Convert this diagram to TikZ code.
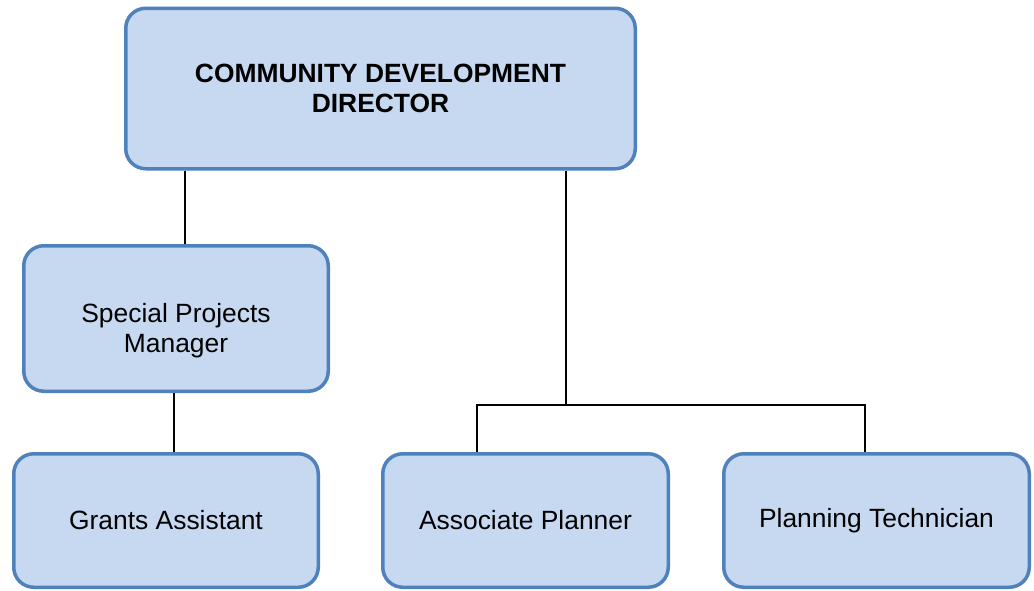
\documentclass[tikz,border=0pt]{standalone}
\usepackage{fontspec}
\setmainfont{Liberation Sans}
\usetikzlibrary{positioning}
\definecolor{boxfill}{HTML}{C6D9F1}
\definecolor{boxline}{HTML}{4F81BD}

\begin{document}
\begin{tikzpicture}[
    % GLOBAL CFG
    x=1pt, y=1pt,
    font=\fontsize{26.4}{30}\selectfont,
    % Styles
    post/.style={% For every position box
        rectangle,
        rounded corners=20pt,
        draw=boxline,
        line width=3.5pt,
        fill=boxfill,
        minimum height=133.5pt,
        inner sep=2pt,
    },
    head/.style={% For the director box
        post,
        font=\fontsize{26.4}{30}\selectfont\bfseries,
    },
    link/.style={% Lines between boxes
        line width=1.3pt,
        black,
    },
    every text node part/.style={
        align=center
    },
    ]

    % Fix the page
    \useasboundingbox (0,0) rectangle (1034,-590);

    % Draw boxes
    \node [head, minimum width=509.5pt, minimum height=160.5pt] (dir) at (380.5,-88.5) {COMMUNITY DEVELOPMENT\\DIRECTOR};
    \node [post, minimum width=304.5pt, minimum height=145.5pt,
           text height=70pt, text depth=1.4pt] (spm) at (176,-318.5) {Special Projects\\Manager};
    \node [post, minimum width=304.5pt] (grants) at (166,-520.5) {Grants Assistant};
    \node [post, minimum width=285.5pt] (ap) at (525.5,-520.5) {Associate Planner};
    \node [post, minimum width=305.5pt] (pt) at (876.5,-520.5) {Planning Technician};

    % Connect all
    \coordinate (bus) at (566,-405);
    \draw [link] ([xshift=9pt]spm.north) -- ([xshift=9pt]spm.north |- dir.south);
    \draw [link] ([xshift=8pt]grants.north) -- ([xshift=8pt]grants.north |- spm.south);
    \draw [link] (dir.south -| bus) -- (bus);
    \draw [link] ([xshift=-48.5pt]ap.north) |- (bus) -| ([xshift=-11.5pt]pt.north);

\end{tikzpicture}
\end{document}
